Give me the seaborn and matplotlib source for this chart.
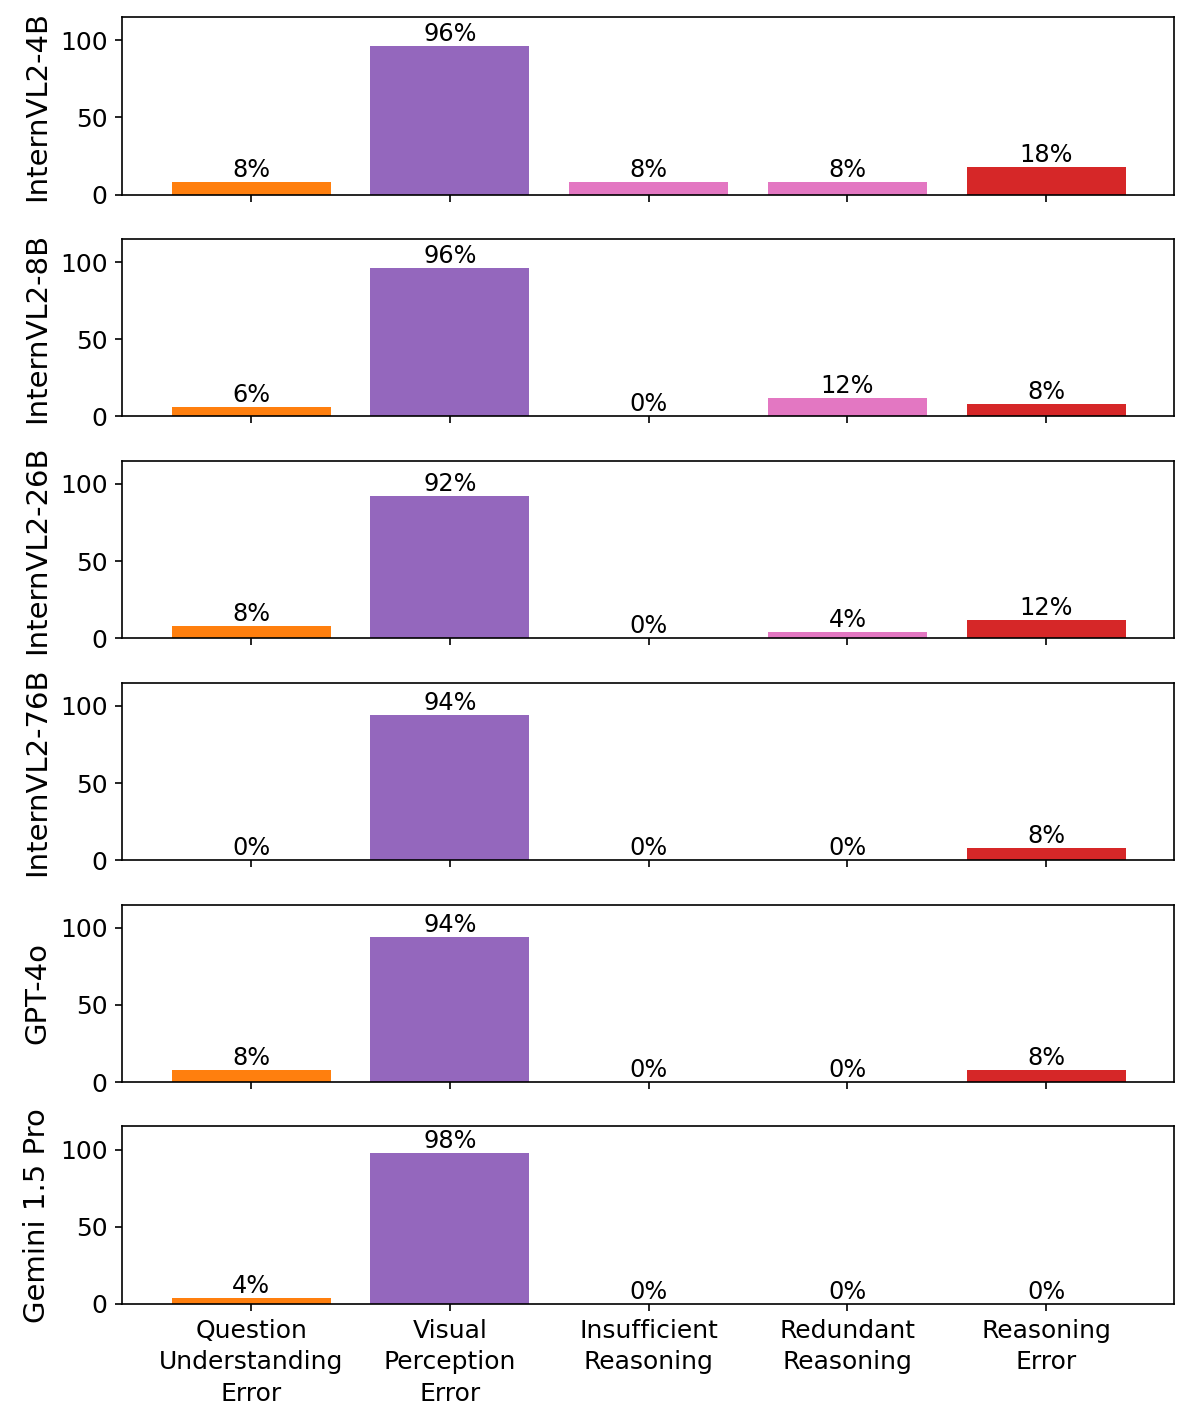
import matplotlib
matplotlib.use("Agg")
import matplotlib.pyplot as plt
import seaborn as sns
import pandas as pd

categories = ["Question\nUnderstanding\nError", "Visual\nPerception\nError",
              "Insufficient\nReasoning", "Redundant\nReasoning", "Reasoning\nError"]
models = ["InternVL2-4B", "InternVL2-8B", "InternVL2-26B", "InternVL2-76B",
          "GPT-4o", "Gemini 1.5 Pro"]
internvl2_4b = [8, 96, 8, 8, 18]
internvl2_8b = [6, 96, 0, 12, 8]
internvl2_26b = [8, 92, 0, 4, 12]
internvl2_76b = [0, 94, 0, 0, 8]
gpt_4o = [8, 94, 0, 0, 8]
gemini_15_pro = [4, 98, 0, 0, 0]
all_values = [internvl2_4b, internvl2_8b, internvl2_26b, internvl2_76b, gpt_4o, gemini_15_pro]

colors = ["#ff7f0e", "#9467bd", "#e377c2", "#e377c2", "#d62728"]

fig, axes = plt.subplots(len(models), 1, figsize=(1196/150, 1422/150), dpi=150, sharex=True)
plt.subplots_adjust(left=0.102, right=0.982, top=0.988, bottom=0.083, hspace=0.25)

for ax, model, vals in zip(axes, models, all_values):
    df = pd.DataFrame({"category": categories, "value": vals})
    sns.barplot(data=df, x="category", y="value", hue="category", palette=colors,
                legend=False, ax=ax, saturation=1, width=0.8)
    for cont in ax.containers:
        ax.bar_label(cont, labels=[f"{int(v)}%" for v in cont.datavalues], fontsize=11.5)
    ax.set_ylim(0, 115)
    ax.set_xlim(-0.65, 4.645)
    ax.set_yticks([0, 50, 100])
    ax.set_ylabel(model, fontsize=14)
    ax.set_xlabel("")
    ax.tick_params(axis="both", labelsize=12)

# a bit more room between lines of the category names
for lbl in axes[-1].get_xticklabels():
    lbl.set_linespacing(1.4)

plt.savefig("out.png", dpi=150)
